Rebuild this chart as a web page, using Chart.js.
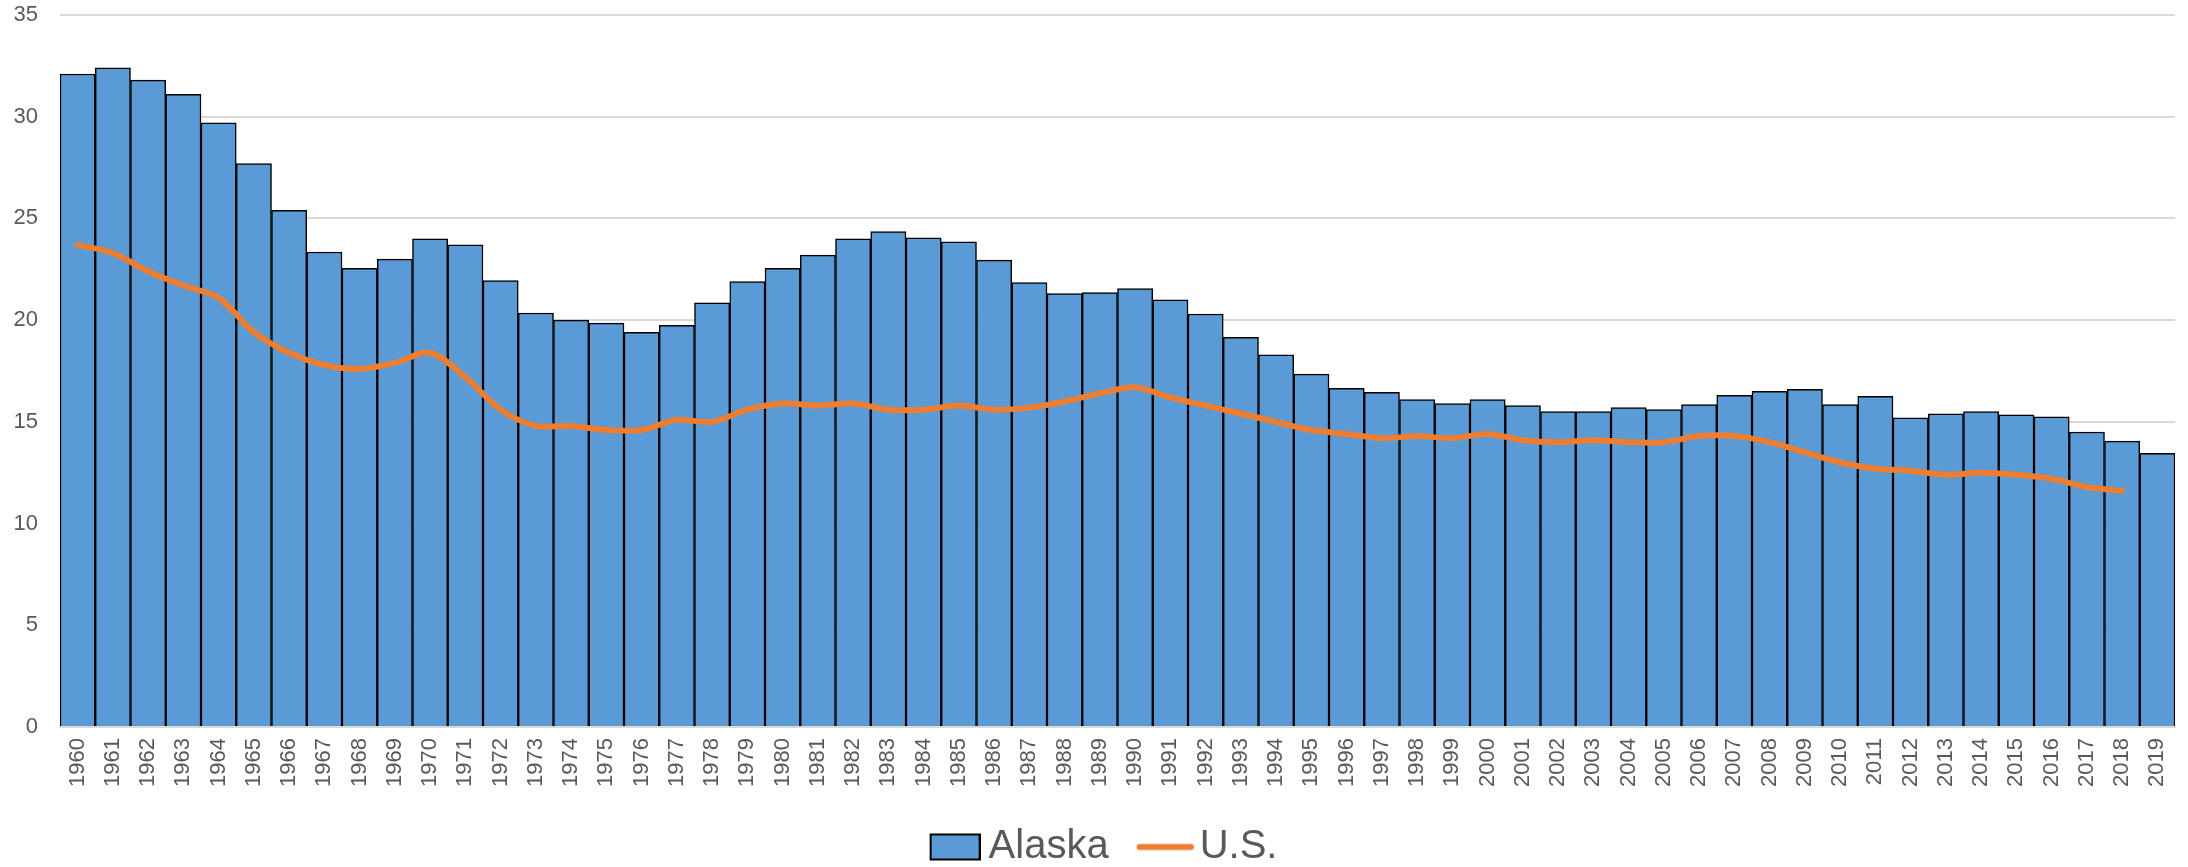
<!DOCTYPE html>
<html>
<head>
<meta charset="utf-8">
<script src="https://cdn.jsdelivr.net/npm/chart.js@4/dist/chart.umd.min.js"></script>
<style>
    html, body { margin: 0; padding: 0; background: #ffffff; overflow: hidden; }
    #wrap { position: relative; width: 2188px; height: 867px; }
</style>
</head>
<body>
<div id="wrap"><canvas id="chart-birth-rate"></canvas></div>
<script>
const years = [
    '1960', '1961', '1962', '1963', '1964', '1965', '1966', '1967', '1968', '1969',
    '1970', '1971', '1972', '1973', '1974', '1975', '1976', '1977', '1978', '1979',
    '1980', '1981', '1982', '1983', '1984', '1985', '1986', '1987', '1988', '1989',
    '1990', '1991', '1992', '1993', '1994', '1995', '1996', '1997', '1998', '1999',
    '2000', '2001', '2002', '2003', '2004', '2005', '2006', '2007', '2008', '2009',
    '2010', '2011', '2012', '2013', '2014', '2015', '2016', '2017', '2018', '2019',
];

const alaskaRates = [
    32.1, 32.4, 31.8, 31.1, 29.7, 27.7, 25.4, 23.35, 22.55, 23.0,
    24.0, 23.7, 21.95, 20.35, 20.0, 19.85, 19.4, 19.75, 20.85, 21.9,
    22.55, 23.2, 24.0, 24.35, 24.05, 23.85, 22.95, 21.85, 21.3, 21.35,
    21.55, 21.0, 20.3, 19.15, 18.3, 17.35, 16.65, 16.45, 16.1, 15.9,
    16.1, 15.8, 15.5, 15.5, 15.7, 15.6, 15.85, 16.3, 16.5, 16.6,
    15.85, 16.25, 15.2, 15.4, 15.5, 15.35, 15.25, 14.5, 14.05, 13.45,
];

const usRates = [
    23.7, 23.3, 22.4, 21.7, 21.1, 19.4, 18.4, 17.8, 17.6, 17.9,
    18.4, 17.2, 15.6, 14.8, 14.8, 14.6, 14.6, 15.1, 15.0, 15.6,
    15.9, 15.8, 15.9, 15.6, 15.6, 15.8, 15.6, 15.7, 16.0, 16.4,
    16.7, 16.2, 15.8, 15.4, 15.0, 14.6, 14.4, 14.2, 14.3, 14.2,
    14.4, 14.1, 14.0, 14.1, 14.0, 14.0, 14.3, 14.3, 14.0, 13.5,
    13.0, 12.7, 12.6, 12.4, 12.5, 12.4, 12.2, 11.8, 11.6, null,
];

const seriesNames = ['Alaska', 'U.S.'];

const barColor = '#5B9BD5';
const lineColor = '#ED7D31';
const textColor = '#595959';
const gridColor = '#D9D9D9';

// legend swatches: drawn centred on the legend box, so the visible mark sits on the right side
function makeBoxSwatch() {
    const c = document.createElement('canvas');
    c.width = 95;
    c.height = 29;
    const ctx = c.getContext('2d');
    ctx.fillStyle = barColor;
    ctx.fillRect(45, 2, 49, 25);
    ctx.strokeStyle = '#000000';
    ctx.lineWidth = 2;
    ctx.strokeRect(45, 2, 49, 25);
    return c;
}

function makeLineSwatch() {
    const c = document.createElement('canvas');
    c.width = 99;
    c.height = 29;
    const ctx = c.getContext('2d');
    ctx.strokeStyle = lineColor;
    ctx.lineWidth = 6;
    ctx.lineCap = 'round';
    ctx.beginPath();
    ctx.moveTo(45, 14.5);
    ctx.lineTo(96, 14.5);
    ctx.stroke();
    return c;
}

const swatches = [makeBoxSwatch(), makeLineSwatch()];

Chart.defaults.font.family = '"Liberation Sans", Arial, sans-serif';
Chart.defaults.color = textColor;

new Chart(document.getElementById('chart-birth-rate'), {
    type: 'bar',
    data: {
        labels: years,
        datasets: [
            {
                type: 'bar',
                label: seriesNames[0],
                data: alaskaRates,
                backgroundColor: barColor,
                borderColor: '#000000',
                borderWidth: 1.5,
                barPercentage: 1,
                categoryPercentage: 1,
                order: 2,
            },
            {
                type: 'line',
                label: seriesNames[1],
                data: usRates,
                borderColor: lineColor,
                backgroundColor: lineColor,
                borderWidth: 6,
                borderCapStyle: 'round',
                borderJoinStyle: 'round',
                pointRadius: 0,
                tension: 0.3,
                fill: false,
                order: 1,
            },
        ],
    },
    options: {
        responsive: true,
        maintainAspectRatio: false,
        animation: false,
        layout: {
            padding: { top: 15, right: 13, bottom: -10, left: 0 },
        },
        plugins: {
            tooltip: { enabled: false },
            legend: {
                position: 'bottom',
                labels: {
                    color: textColor,
                    font: { size: 40 },
                    usePointStyle: true,
                    pointStyleWidth: 71,
                    padding: 0,
                    generateLabels: (chart) => {
                        const items = Chart.defaults.plugins.legend.labels.generateLabels(chart);
                        items.sort((a, b) => a.datasetIndex - b.datasetIndex);
                        items.forEach((item) => {
                            item.pointStyle = swatches[item.datasetIndex];
                        });
                        return items;
                    },
                },
            },
        },
        scales: {
            x: {
                grid: { display: false },
                border: { display: true, color: gridColor, width: 2 },
                ticks: {
                    color: textColor,
                    font: { size: 22 },
                    minRotation: 90,
                    maxRotation: 90,
                    autoSkip: false,
                    padding: 3,
                },
                afterFit: (scale) => {
                    scale.height = 100;
                },
            },
            y: {
                min: 0,
                max: 35,
                grid: { color: gridColor, lineWidth: 2, drawTicks: false },
                border: { display: false },
                ticks: {
                    stepSize: 5,
                    color: textColor,
                    font: { size: 22 },
                    padding: 22,
                },
                afterFit: (scale) => {
                    scale.width = 60;
                    scale.paddingTop = 0;
                    scale.paddingBottom = 0;
                },
            },
        },
    },
});
</script>
</body>
</html>
